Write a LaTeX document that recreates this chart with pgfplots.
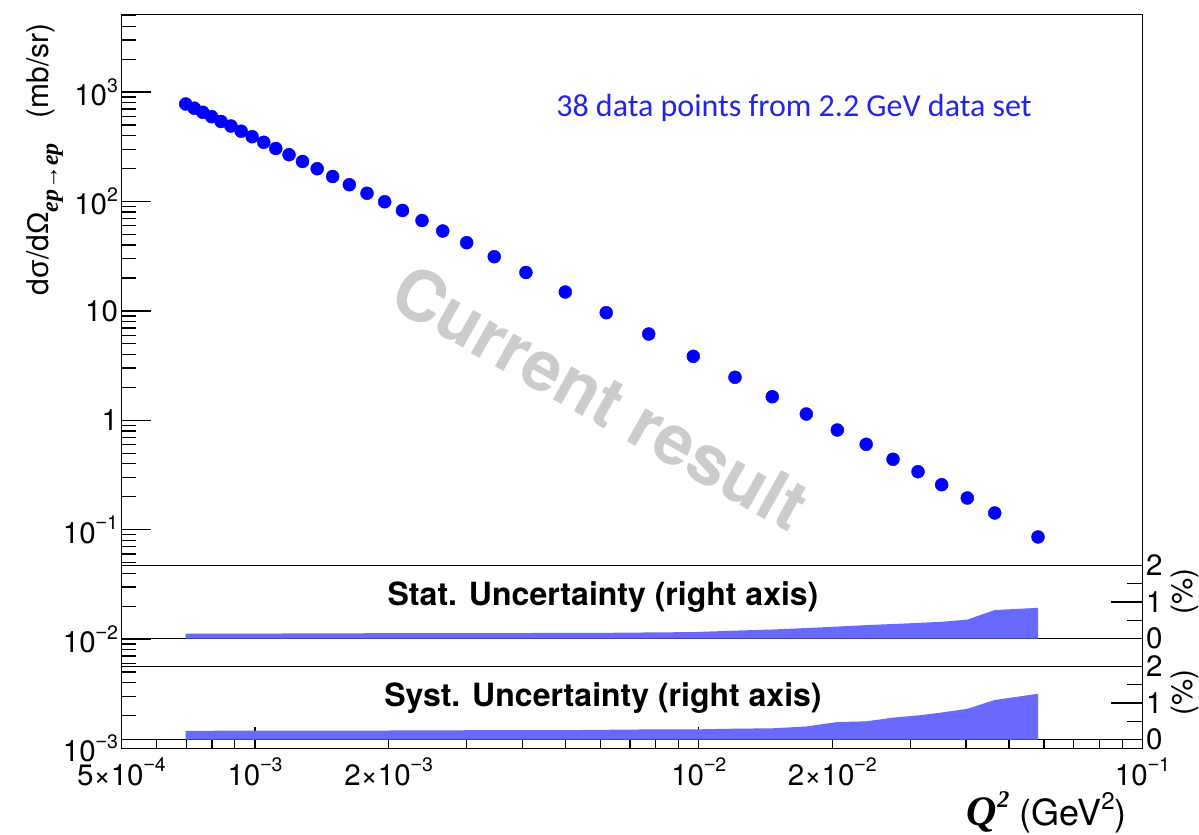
\documentclass[border=0pt]{standalone}
\usepackage{fontspec}
\setmainfont{TeX Gyre Heros}
\newfontfamily\greekf{Liberation Sans}
\newfontfamily\timesf{Liberation Serif}
\newfontfamily\calib{Carlito}
\usepackage{pgfplots}
\pgfplotsset{compat=1.18}
\usetikzlibrary{calc}

\definecolor{notecol}{RGB}{35,35,240}
\definecolor{wmark}{RGB}{204,204,204}
\definecolor{bandcol}{RGB}{105,105,255}
\newcommand\sx[1]{\raisebox{0.45em}{\fontsize{19.5}{19.5}\selectfont #1}}
\newcommand\mn{{\greekf −}}
\newcommand\tfont{\fontsize{29.5}{29.5}\selectfont}

\begin{document}
\begin{tikzpicture}
% main cross-section panel (data + decade ticks on x)
\begin{axis}[
  name=main, scale only axis, width=1021pt, height=734pt,
  xmode=log, xmin=5e-4, xmax=0.1,
  ymode=log, ymin=1e-3, ymax=5121,
  tick align=inside, tick label style={font=\tfont},
  xticklabel style={yshift=-6pt},
  tick style={line width=1.3pt, black},
  axis line style={line width=1.6pt},
  xtick pos=bottom, ytick=\empty,
  xtick={1e-3,1e-2,1e-1},
  xticklabels={10\sx{\mn3},10\sx{\mn2},10\sx{\mn1}},
  minor xtick={6e-4,7e-4,8e-4,9e-4,2e-3,3e-3,4e-3,5e-3,6e-3,7e-3,8e-3,9e-3,
               2e-2,3e-2,4e-2,5e-2,6e-2,7e-2,8e-2,9e-2},
  major tick length=22pt, minor tick length=9pt,
  xlabel={{\timesf\fontsize{42}{42}\selectfont\bfseries\itshape Q\raisebox{0.45em}{\fontsize{24}{24}\selectfont 2}} (GeV\raisebox{0.45em}{\fontsize{24}{24}\selectfont 2})},
  xlabel style={font=\fontsize{36}{36}\selectfont, at={(axis description cs:0.988,-0.087)}, anchor=east},
  ylabel={d{\greekf σ}/d{\greekf Ω}\raisebox{-0.3em}{\fontsize{24}{24}\selectfont\timesf\bfseries\itshape ep→ep}\ \ \ (mb/sr)},
  ylabel style={font=\fontsize{30}{30}\selectfont, at={(axis description cs:-0.075,0.993)}, anchor=east},
  clip=false,
]
\node[rotate=-29.5, text=wmark, font=\fontsize{70}{70}\selectfont\bfseries]
  at (rel axis cs:0.4696,0.4789) {Current result};
\node[text=notecol, font=\calib\fontsize{32}{32}\selectfont]
  at (rel axis cs:0.6587,0.8726) {38 data points from 2.2 GeV data set};
\addplot[only marks, mark=*, mark size=6.5pt, color=blue] coordinates {
  (6.977e-4,778.5) (7.295e-4,712.6) (7.624e-4,653.7) (7.988e-4,596.0)
  (8.382e-4,538.7) (8.823e-4,489.9) (9.304e-4,439.1) (9.852e-4,391.2)
  (1.0463e-3,347.6) (1.1136e-3,305.1) (1.1928e-3,267.8) (1.2793e-3,232.1)
  (1.3805e-3,199.4) (1.4961e-3,169.2) (1.6312e-3,142.4) (1.7879e-3,118.9)
  (1.9597e-3,99.4) (2.149e-3,82.8) (2.378e-3,67.0) (2.648e-3,53.74)
  (2.999e-3,42.02) (3.460e-3,31.29) (4.078e-3,22.44) (5.003e-3,14.89)
  (6.187e-3,9.627) (7.713e-3,6.149) (9.720e-3,3.846) (1.2068e-2,2.472)
  (1.4645e-2,1.643) (1.7476e-2,1.142) (2.0522e-2,0.8153) (2.3842e-2,0.6035)
  (2.7403e-2,0.4401) (3.1198e-2,0.3390) (3.5276e-2,0.2578) (4.0291e-2,0.1949)
  (4.6446e-2,0.1422) (5.8148e-2,0.0858)
};
\end{axis}

% labelled intermediate x ticks (short, like the minor ones)
\begin{axis}[
  at={(main.south west)}, anchor=south west,
  scale only axis, width=1021pt, height=734pt,
  xmode=log, xmin=5e-4, xmax=0.1, ymin=0, ymax=1,
  hide y axis, axis x line*=bottom,
  axis line style={line width=1.6pt},
  tick align=inside, tick label style={font=\tfont},
  xticklabel style={yshift=-6pt},
  tick style={line width=1.3pt, black},
  xtick={5e-4,2e-3,2e-2}, minor xtick={},
  xticklabels={5\texttimes10\sx{\mn4},2\texttimes10\sx{\mn3},2\texttimes10\sx{\mn2}},
  major tick length=9pt,
]
\end{axis}

% y ticks of the main panel (longer ticks than on x)
\begin{axis}[
  at={(main.south west)}, anchor=south west,
  scale only axis, width=1021pt, height=734pt,
  xmode=log, xmin=5e-4, xmax=0.1,
  ymode=log, ymin=1e-3, ymax=5121,
  hide x axis, axis y line*=left,
  axis line style={line width=1.6pt},
  tick align=inside, tick label style={font=\tfont},
  tick style={line width=1.3pt, black},
  ytick={1e-3,1e-2,1e-1,1,10,100,1000},
  yticklabels={10\sx{\mn3},10\sx{\mn2},10\sx{\mn1},1,10,10\sx{2},10\sx{3}},
  minor ytick={2e-3,3e-3,4e-3,5e-3,6e-3,7e-3,8e-3,9e-3,
    2e-2,3e-2,4e-2,5e-2,6e-2,7e-2,8e-2,9e-2,0.2,0.3,0.4,0.5,0.6,0.7,0.8,0.9,
    2,3,4,5,6,7,8,9,20,30,40,50,60,70,80,90,200,300,400,500,600,700,800,900,
    2000,3000,4000,5000},
  major tick length=30pt, minor tick length=15pt,
]
\end{axis}

% statistical uncertainty strip
\begin{axis}[
  at={($(main.south west)+(0pt,109.8pt)$)}, anchor=south west,
  scale only axis, width=1021pt, height=73.5pt,
  xmode=log, xmin=5e-4, xmax=0.1, ymin=0, ymax=2,
  tick align=inside, tick label style={font=\tfont},
  tick style={line width=1.3pt, black},
  axis line style={line width=1.2pt},
  xtick=\empty, ytick={0,1,2}, yticklabels={0,1,2},
  ytick pos=right, yticklabel pos=right,
  major tick length=31pt,
  clip=false,
]
\addplot[draw=none, fill=bandcol] coordinates {
  (6.977e-4,0.14) (1.0463e-3,0.14) (1.9597e-3,0.15) (3.460e-3,0.15)
  (5.003e-3,0.16) (6.187e-3,0.16) (7.713e-3,0.17) (9.720e-3,0.18)
  (1.2068e-2,0.22) (1.4645e-2,0.25) (1.7476e-2,0.29) (2.0522e-2,0.33)
  (2.3842e-2,0.37) (2.7403e-2,0.40) (3.1198e-2,0.43) (3.5276e-2,0.46)
  (4.0291e-2,0.52) (4.6446e-2,0.78) (5.8148e-2,0.84)
} \closedcycle;
% half-percent ticks on the right axis
\draw[line width=1.3pt] (rel axis cs:1,0.25) -- ++(-15pt,0pt);
\draw[line width=1.3pt] (rel axis cs:1,0.75) -- ++(-15pt,0pt);
\node[font=\fontsize{32}{32}\selectfont\bfseries] at (axis description cs:0.4716,0.567)
  {Stat. Uncertainty (right axis)};
\node[rotate=90, anchor=east, font=\tfont] at (axis description cs:1.0416,1) {(\%)};
\end{axis}

% systematic uncertainty strip
\begin{axis}[
  at={($(main.south west)+(0pt,8.8pt)$)}, anchor=south west,
  scale only axis, width=1021pt, height=73.5pt,
  xmode=log, xmin=5e-4, xmax=0.1, ymin=0, ymax=2,
  tick align=inside, tick label style={font=\tfont},
  tick style={line width=1.3pt, black},
  axis line style={line width=1.2pt},
  xtick=\empty, ytick={0,1,2}, yticklabels={0,1,2},
  ytick pos=right, yticklabel pos=right,
  major tick length=31pt,
  clip=false,
]
\addplot[draw=none, fill=bandcol] coordinates {
  (6.977e-4,0.24) (1.0463e-3,0.25) (1.9597e-3,0.25) (3.460e-3,0.26)
  (5.003e-3,0.26) (6.187e-3,0.27) (7.713e-3,0.28) (9.720e-3,0.28)
  (1.2068e-2,0.30) (1.4645e-2,0.31) (1.7476e-2,0.36) (2.0522e-2,0.48)
  (2.3842e-2,0.50) (2.7403e-2,0.60) (3.1198e-2,0.66) (3.5276e-2,0.74)
  (4.0291e-2,0.84) (4.6446e-2,1.08) (5.8148e-2,1.25)
} \closedcycle;
% half-percent ticks on the right axis
\draw[line width=1.3pt] (rel axis cs:1,0.25) -- ++(-15pt,0pt);
\draw[line width=1.3pt] (rel axis cs:1,0.75) -- ++(-15pt,0pt);
\node[font=\fontsize{32}{32}\selectfont\bfseries] at (axis description cs:0.4716,0.567)
  {Syst. Uncertainty (right axis)};
\node[rotate=90, anchor=east, font=\tfont] at (axis description cs:1.0416,1) {(\%)};
\end{axis}

\pgfresetboundingbox
\path ($(main.south west)+(-121.5pt,-85.5pt)$) rectangle ($(main.north east)+(56.5pt,14.5pt)$);
\end{tikzpicture}
\end{document}
